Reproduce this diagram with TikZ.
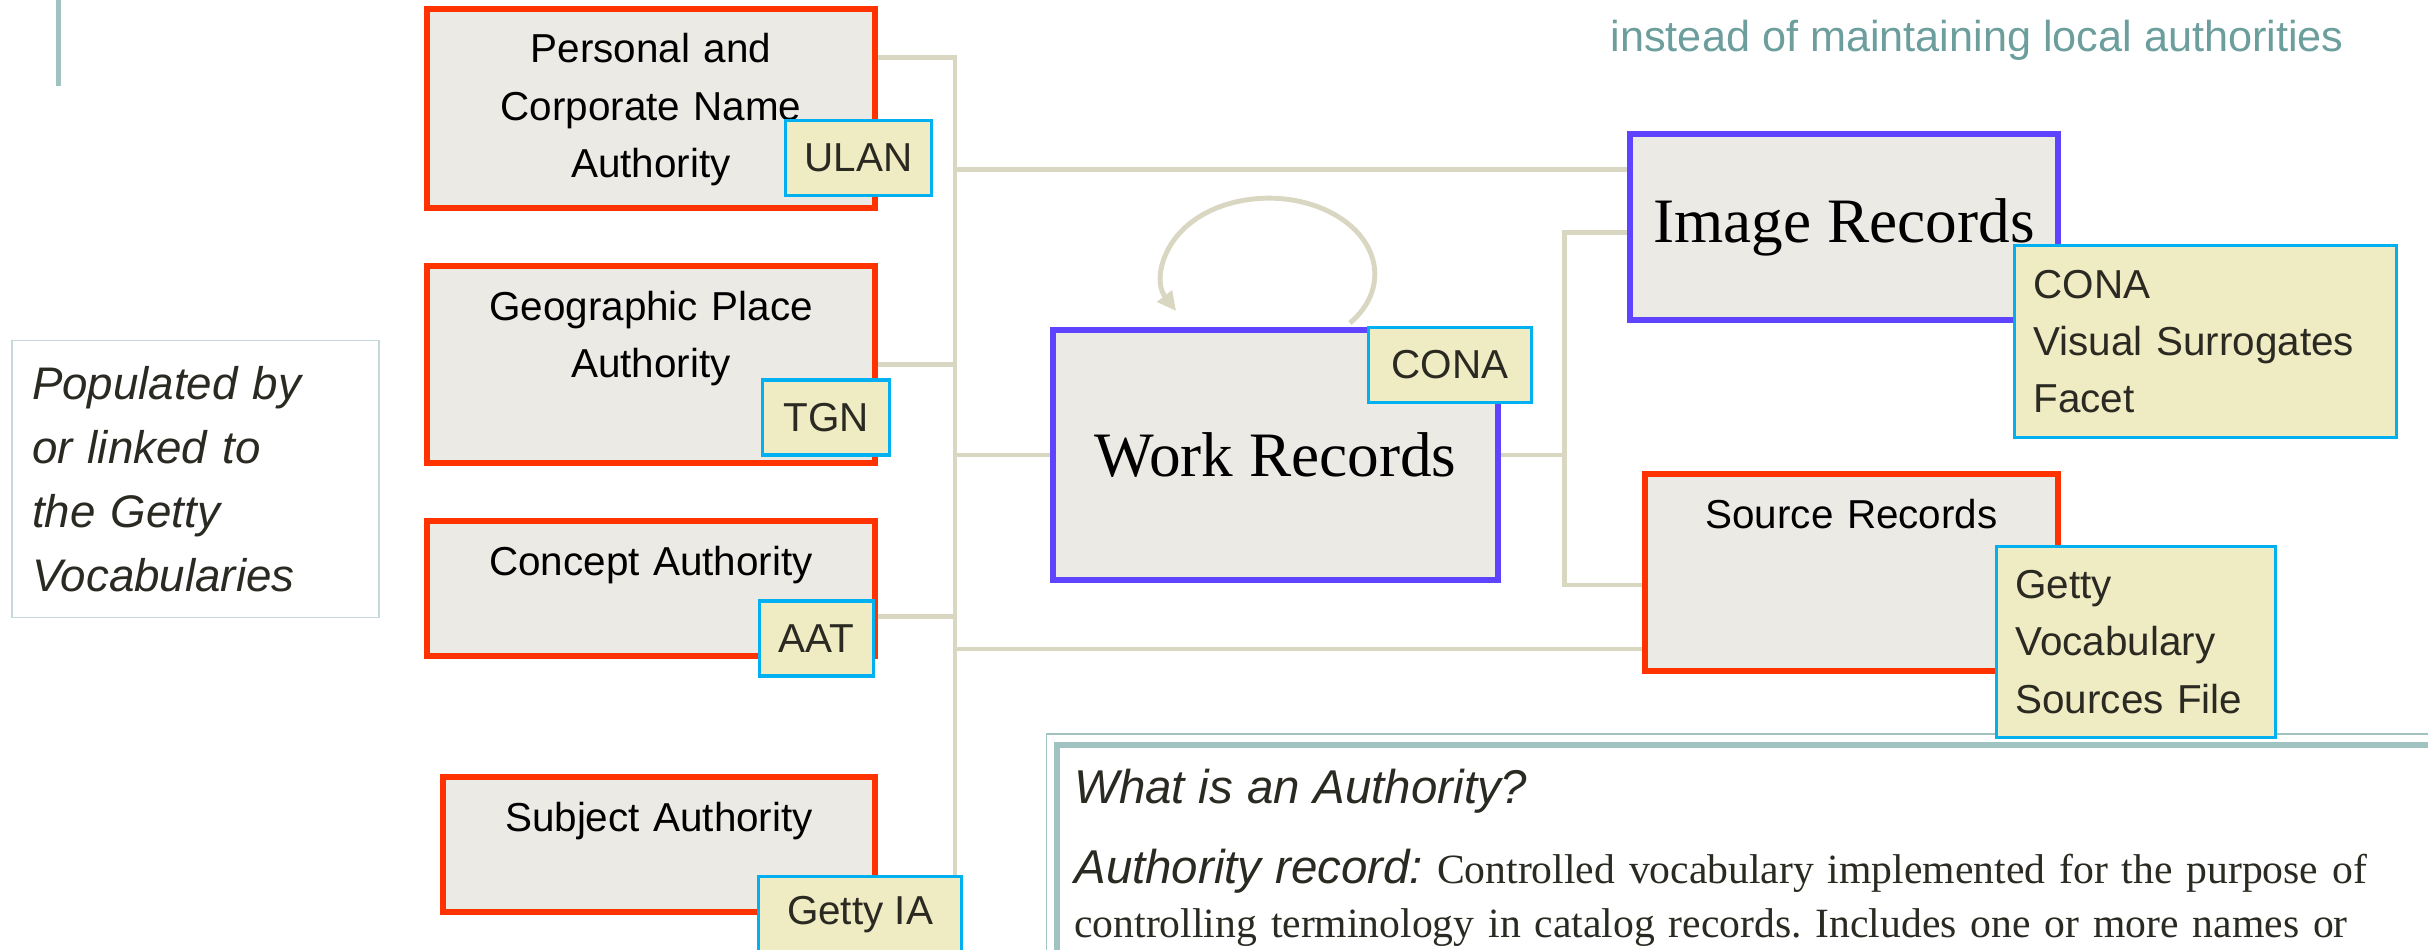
\documentclass[tikz,border=0pt]{standalone}
\usepackage{fontspec}
\setmainfont{Liberation Serif}
\setsansfont{Liberation Sans}
\usepackage{tikz}
\usetikzlibrary{arrows.meta,backgrounds}
\definecolor{vocabInk}{HTML}{2B2A22}
\definecolor{vocabRed}{HTML}{FF3300}
\definecolor{vocabBlue}{HTML}{5F44FF}
\definecolor{vocabPaper}{HTML}{EBEAE5}
\definecolor{vocabTag}{HTML}{EFEBC2}
\definecolor{vocabCyan}{HTML}{00B0F0}
\definecolor{vocabLink}{HTML}{D9D7C1}
\definecolor{vocabTeal}{HTML}{6B9E9C}
\definecolor{vocabFrame}{HTML}{A0C2C1}
\definecolor{vocabMist}{HTML}{C6D9DA}
\tikzset{
    vocab/authority/.style={
        rectangle, draw=vocabRed, fill=vocabPaper, line width=1.7pt,
        minimum width=4.48cm, inner sep=0pt
    },
    vocab/record/.style={
        rectangle, draw=vocabBlue, fill=vocabPaper, line width=1.7pt,
        text=black, font=\rmfamily\fontsize{18}{20}\selectfont, inner sep=0pt
    },
    vocab/title/.style={
        anchor=north, yshift=-0.27cm, text width=3.9cm, align=center,
        text=black, font=\sffamily\fontsize{11.5}{16.3}\selectfont,
        inner sep=0pt
    },
    vocab/tag/.style={
        rectangle, draw=vocabCyan, fill=vocabTag, line width=0.9pt,
        text=vocabInk, font=\sffamily\fontsize{11.5}{16.3}\selectfont,
        minimum height=0.75cm, inner sep=0pt
    },
    vocab/tag list/.style={
        vocab/tag, align=left, inner xsep=0.19cm
    },
    vocab/note/.style={
        rectangle, draw=vocabMist, fill=white, line width=0.5pt,
        text=vocabInk, font=\sffamily\itshape\fontsize{13}{18.2}\selectfont,
        text width=3.27cm, inner xsep=0.2cm, align=left,
        minimum height=2.77cm
    },
    vocab/heading/.style={
        text=vocabTeal, font=\sffamily\fontsize{12.3}{14}\selectfont,
        inner sep=0pt
    },
    vocab/definition/.style={
        rectangle, draw=vocabFrame, fill=white, line width=1.9pt,
        anchor=north west, text width=13.39cm, inner xsep=0.175cm,
        inner ysep=0.24cm, align=left, text=vocabInk,
        font=\rmfamily\frenchspacing\fontsize{11.85}{15.5}\selectfont
    },
    vocab/outline/.style={
        draw=vocabFrame, line width=0.55pt
    },
    vocab/rule/.style={
        draw=vocabFrame, line width=1.4pt
    },
    vocab/link/.style={
        draw=vocabLink, line width=1.4pt
    },
    vocab/self arrow/.style={
        vocab/link, -{Triangle[length=0.19cm,width=0.18cm]}
    }
}
\newcommand{\askfont}{\sffamily\itshape\fontsize{13.5}{15.5}\selectfont}

\begin{document}
\begin{tikzpicture}
    \useasboundingbox (0,0) rectangle (24.28,-9.50);
    \clip (0,0) rectangle (24.28,-9.50);

    \draw[vocab/rule] (0.587,0) -- (0.587,-0.86);
    \node[vocab/heading, anchor=base west] (subtitle) at (16.10,-0.52)
        {instead of maintaining local authorities};
    \node[vocab/note] (populated) at (1.955,-4.789)
        {Populated by\\or linked to\\the Getty\\Vocabularies};

    % authorities on the left
    \node[vocab/authority, minimum height=1.99cm] (personal) at (6.51,-1.084) {};
    \node[vocab/title] (personal title) at (personal.north)
        {Personal and\\Corporate Name\\Authority};
    \node[vocab/authority, minimum height=1.97cm] (geo) at (6.51,-3.645) {};
    \node[vocab/title] (geo title) at (geo.north)
        {Geographic Place\\Authority};
    \node[vocab/authority, minimum height=1.35cm] (concept) at (6.51,-5.885) {};
    \node[vocab/title] (concept title) at (concept.north)
        {Concept Authority};
    \node[vocab/authority, minimum width=4.32cm, minimum height=1.35cm]
        (subject) at (6.59,-8.445) {};
    \node[vocab/title] (subject title) at (subject.north)
        {Subject Authority};

    % records
    \node[vocab/record, minimum width=4.45cm, minimum height=2.50cm]
        (work) at (12.755,-4.55) {Work Records};
    \node[vocab/record, minimum width=4.28cm, minimum height=1.86cm]
        (image) at (18.44,-2.27) {Image Records};
    \node[vocab/authority, minimum width=4.13cm, minimum height=1.97cm]
        (source) at (18.515,-5.725) {};
    \node[vocab/title] (source title) at (source.north)
        {Source Records};

    \node[vocab/definition] (definition) at (10.535,-7.415)
        {{\askfont What is an Authority?}\\[7.3pt]
         {\askfont Authority record:} Controlled vocabulary implemented
         for the purpose of\\
         controlling terminology in catalog records. Includes one or
         more names or};
    \draw[vocab/outline] ([shift={(-0.07,0.072)}]definition.north west)
        rectangle ([shift={(0.07,-0.072)}]definition.south east);

    % vocabulary tags
    \node[vocab/tag, minimum width=1.46cm] (ulan) at (8.585,-1.58) {ULAN};
    \node[vocab/tag, minimum width=1.27cm] (tgn) at (8.26,-4.175) {TGN};
    \node[vocab/tag, minimum width=1.14cm] (aat) at (8.165,-6.385) {AAT};
    \node[vocab/tag, minimum width=2.03cm, minimum height=0.77cm]
        (getty ia) at (8.60,-9.15) {Getty IA};
    \node[vocab/tag, minimum width=1.63cm] (work cona) at (14.50,-3.65) {CONA};
    \node[vocab/tag list, text width=3.44cm, minimum height=1.92cm]
        (image cona) at (22.055,-3.415) {CONA\\Visual Surrogates\\Facet};
    \node[vocab/tag list, text width=2.41cm, minimum height=1.91cm]
        (sources file) at (21.36,-6.42) {Getty\\Vocabulary\\Sources File};

    \coordinate (bus top) at (9.55,-0.572);
    \coordinate (split) at (15.647,-4.55);
    \coordinate (concept link) at ([yshift=-0.282cm]concept.east);
    \coordinate (image link) at ([yshift=0.577cm]image.west);
    \coordinate (source link) at ([yshift=-0.765cm]source.west);

    \begin{scope}[on background layer]
        \draw[vocab/link] (personal.east |- bus top) -- (bus top)
            -- (bus top |- getty ia.north);
        \draw[vocab/link] (geo.east) -- (geo.east -| bus top);
        \draw[vocab/link] (concept link) -- (concept link -| bus top);
        \draw[vocab/link] (image link -| bus top) -- (image link);
        \draw[vocab/link] (work.west -| bus top) -- (work.west);
        \draw[vocab/link] (source link -| bus top) -- (source link);
        \draw[vocab/link] (work.east) -- (split);
        \draw[vocab/link] ([yshift=-0.053cm]image.west) -| (split)
            |- ([yshift=-0.125cm]source.west);
        \draw[vocab/self arrow] ([shift={(0.745,0.04)}]work.north)
            arc[start angle=-40, end angle=209,
                x radius=1.06cm, y radius=0.76cm];
    \end{scope}
\end{tikzpicture}
\end{document}
